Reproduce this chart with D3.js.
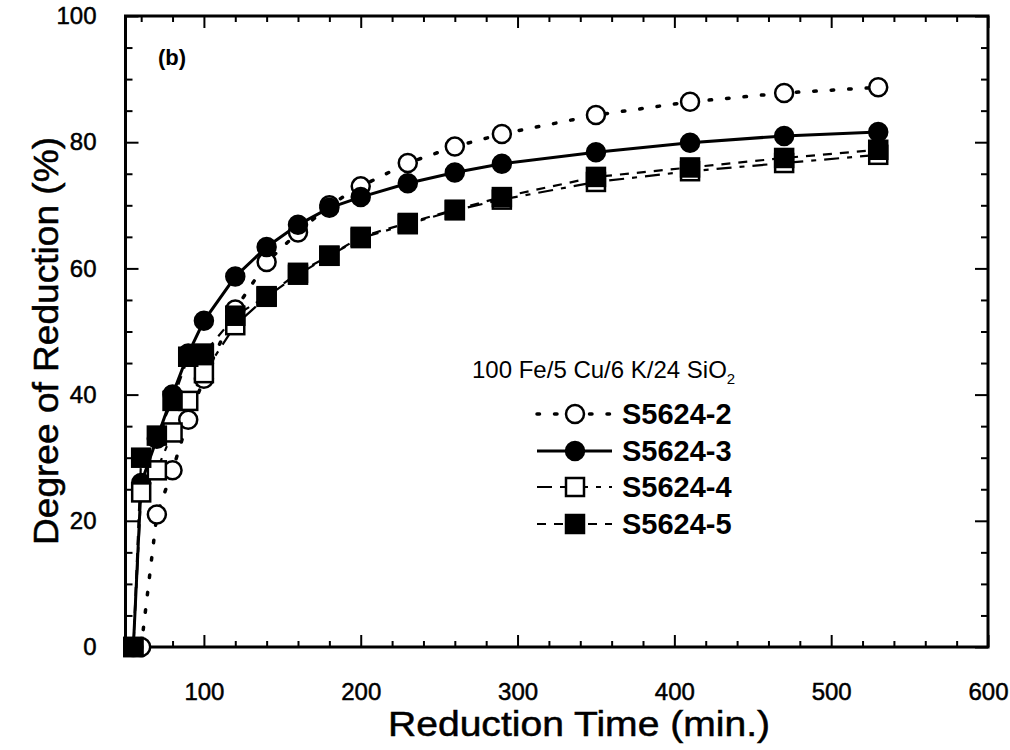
<!DOCTYPE html>
<html>
<head>
<meta charset="utf-8">
<script src="https://cdn.jsdelivr.net/npm/d3@7"></script>
<style>
  body { margin: 0; background: #fff; }
  text { font-family: "Liberation Sans", Arial, Helvetica, sans-serif; fill: #000; }
  .heavy { stroke: #000; stroke-width: 0.5px; }
</style>
</head>
<body>
<svg width="1010" height="750"></svg>
<script>
// data
var times = [55, 60, 70, 80, 90, 100, 120, 140, 160, 180, 200, 230, 260, 290, 350, 410, 470, 530];
var times2 = [60, 70, 80, 90, 100, 120, 140, 160, 180, 200, 230, 260, 290, 350, 410, 470, 530];
var s2 = [0, 21, 28, 36, 42.5, 53.5, 61, 65.7, 70, 73, 76.7, 79.3, 81.3, 84.3, 86.4, 87.8, 88.7];
var s3 = [0, 26, 33, 40, 46.5, 51.7, 58.7, 63.4, 66.9, 69.6, 71.3, 73.5, 75.2, 76.6, 78.4, 79.9, 81, 81.6];
var s4 = [0, 24.5, 28, 34, 39, 43.4, 51, 55.5, 59, 62, 64.8, 67, 69.2, 70.9, 73.7, 75.4, 76.7, 78];
var s5 = [0, 30, 33.5, 39, 46, 46.5, 52.5, 55.6, 59.3, 62, 65, 67.2, 69.3, 71.3, 74.5, 76, 77.5, 78.8];
var seriesNames = ["S5624-2", "S5624-3", "S5624-4", "S5624-5"];
var xMajor = [100, 200, 300, 400, 500, 600];
var yMajor = [0, 20, 40, 60, 80, 100];

var svg = d3.select("svg"),
    width = +svg.attr("width"),
    height = +svg.attr("height");

var plotLeft = 125.5, plotRight = 988, plotTop = 16, plotBottom = 647;

var x = d3.scaleLinear().domain([50, 600]).range([plotLeft, plotRight]);
var y = d3.scaleLinear().domain([0, 100]).range([plotBottom, plotTop]);

var xMinor = d3.range(60, 600, 20).filter(function (v) { return v % 100 != 0; });
var yMinor = d3.range(5, 100, 5).filter(function (v) { return v % 20 != 0; });

// series styles
var styles = [
  { t: times2, v: s2, marker: "circle", fill: "#fff", dash: "2.5,15", cap: "round", w: 3.5 },
  { t: times, v: s3, marker: "circle", fill: "#000", dash: null, cap: "butt", w: 3 },
  { t: times, v: s4, marker: "square", fill: "#fff", dash: "15,8,5,8", cap: "butt", w: 2.2 },
  { t: times, v: s5, marker: "square", fill: "#000", dash: "9,8", cap: "butt", w: 2.2 }
];

//axes: ticks point inward
function tickAxis(axisFn, scale, vals, size, labels, pad) {
  var a = axisFn(scale).tickValues(vals).tickSize(-size).tickPadding(pad);
  if (!labels) a.tickFormat("");
  return a;
}

var gx = svg.append("g").attr("transform", "translate(0," + plotBottom + ")");
gx.call(tickAxis(d3.axisBottom, x, xMajor, 12, true, 36));
gx.append("g").call(tickAxis(d3.axisBottom, x, xMinor, 6, false, 0));

var gxt = svg.append("g").attr("transform", "translate(0," + plotTop + ")");
gxt.call(tickAxis(d3.axisTop, x, xMajor, 12, false, 0));
gxt.append("g").call(tickAxis(d3.axisTop, x, xMinor, 6, false, 0));

var gy = svg.append("g").attr("transform", "translate(" + plotLeft + ",0)");
gy.call(tickAxis(d3.axisLeft, y, yMajor, 13, true, 29));
gy.append("g").call(tickAxis(d3.axisLeft, y, yMinor, 7, false, 0));

var gyr = svg.append("g").attr("transform", "translate(" + plotRight + ",0)");
gyr.call(tickAxis(d3.axisRight, y, yMajor, 13, false, 0));
gyr.append("g").call(tickAxis(d3.axisRight, y, yMinor, 7, false, 0));

svg.selectAll(".domain").remove();
svg.selectAll(".tick line").attr("stroke", "#000").attr("stroke-width", 2);
gx.selectAll(".tick text").style("font-size", "24px").attr("class", "heavy");
gy.selectAll(".tick text").style("font-size", "24px").attr("class", "heavy");

// frame
svg.append("rect")
  .attr("x", plotLeft).attr("y", plotTop)
  .attr("width", plotRight - plotLeft).attr("height", plotBottom - plotTop)
  .attr("fill", "none").attr("stroke", "#000").attr("stroke-width", 3);

// lines
var line = d3.line()
  .x(function (d) { return x(d[0]); })
  .y(function (d) { return y(d[1]); });

styles.forEach(function (s) {
  var pts = s.t.map(function (t, i) { return [t, s.v[i]]; });
  svg.append("path")
    .datum(pts)
    .attr("d", line)
    .attr("fill", "none")
    .attr("stroke", "#000")
    .attr("stroke-width", s.w)
    .attr("stroke-linecap", s.cap)
    .attr("stroke-dasharray", s.dash);
});

function drawMarker(g, s, cx, cy) {
  if (s.marker == "circle") {
    g.append("circle").attr("cx", cx).attr("cy", cy).attr("r", 9)
      .attr("fill", s.fill).attr("stroke", "#000").attr("stroke-width", 2.5);
  } else {
    g.append("rect").attr("x", cx - 9).attr("y", cy - 9).attr("width", 18).attr("height", 18)
      .attr("fill", s.fill).attr("stroke", "#000").attr("stroke-width", 2.5);
  }
}

// markers
styles.forEach(function (s) {
  var g = svg.append("g");
  s.t.forEach(function (t, i) { drawMarker(g, s, x(t), y(s.v[i])); });
});

// panel label
svg.append("text").attr("x", 158).attr("y", 65)
  .style("font-size", "22px").style("font-weight", "bold").text("(b)");

// legend
var hdr = svg.append("text").attr("x", 472).attr("y", 378).style("font-size", "24px");
hdr.append("tspan").text("100 Fe/5 Cu/6 K/24 SiO");
hdr.append("tspan").attr("dy", 6).style("font-size", "15px").text("2");

var legY = [414, 451, 487, 524];
styles.forEach(function (s, i) {
  var g = svg.append("g");
  g.append("line")
    .attr("x1", 537).attr("x2", 612).attr("y1", legY[i]).attr("y2", legY[i])
    .attr("stroke", "#000").attr("stroke-width", s.w)
    .attr("stroke-linecap", s.cap).attr("stroke-dasharray", s.dash);
  drawMarker(g, s, 575, legY[i]);
  g.append("text").attr("x", 622).attr("y", legY[i] + 10)
    .style("font-size", "29px").style("font-weight", "bold").text(seriesNames[i]);
});

// axis titles
svg.append("text").attr("x", 579).attr("y", 736)
  .attr("text-anchor", "middle").attr("class", "heavy").style("font-size", "35px")
  .attr("textLength", 382).attr("lengthAdjust", "spacingAndGlyphs")
  .text("Reduction Time (min.)");

svg.append("text")
  .attr("transform", "translate(58,341) rotate(-90)")
  .attr("text-anchor", "middle").attr("class", "heavy").style("font-size", "35px")
  .attr("textLength", 408).attr("lengthAdjust", "spacingAndGlyphs")
  .text("Degree of Reduction (%)");
</script>
</body>
</html>
